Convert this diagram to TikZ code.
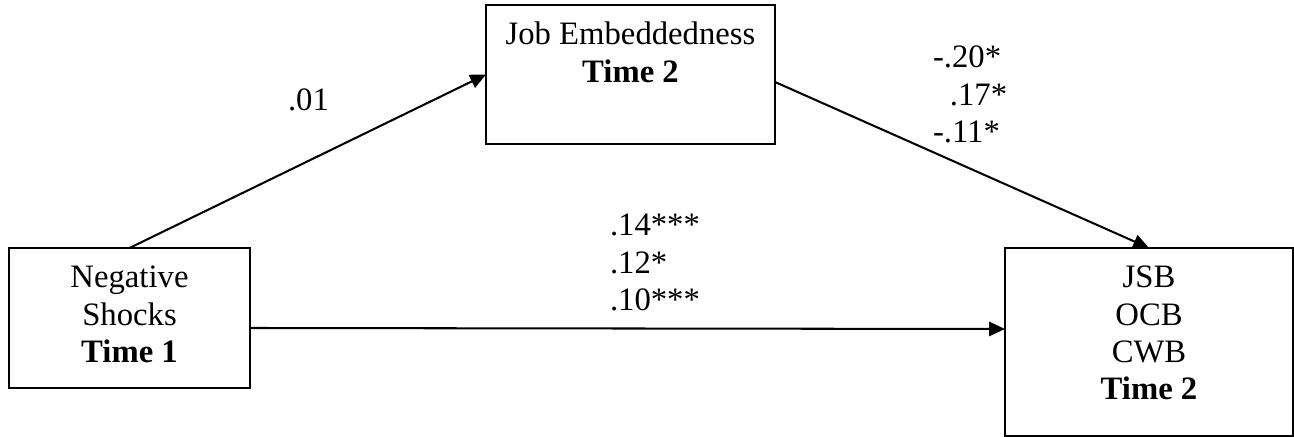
\documentclass[tikz,border=0pt]{standalone}
\usepackage{fontspec}
\setmainfont{Liberation Serif}
\usetikzlibrary{arrows.meta}
\begin{document}
\begin{tikzpicture}[x=0.367pt,y=-0.367pt,
  every node/.style={inner sep=0pt, outer sep=0pt, font=\fontsize{12}{13.6}\selectfont},
  box/.style={draw, line width=0.75pt, text height=14.68pt},
  conn/.style={line width=0.75pt, -{Triangle[length=5.8pt,width=5.2pt]}},
  lbl/.style={anchor=base west}]
\useasboundingbox (0,0) rectangle (1294,437);
\node[box, minimum width=88.45pt, text depth=36.7pt, anchor=base] (ns) at (129.5,288)
  {\begin{tabular}[t]{@{}c@{}}Negative\\Shocks\\\textbf{Time 1}\end{tabular}};
\node[box, minimum width=106.06pt, text depth=36.33pt, anchor=base] (je) at (630.5,45)
  {\begin{tabular}[t]{@{}c@{}}Job Embeddedness\\\textbf{Time 2}\end{tabular}};
\node[box, minimum width=105.7pt, text depth=54.32pt, anchor=base] (rb) at (1149,288)
  {\begin{tabular}[t]{@{}c@{}}JSB\\OCB\\CWB\\\textbf{Time 2}\end{tabular}};
\coordinate (h1) at (0,328);
\coordinate (h2) at (0,329);
\draw[conn] (ns.north) -- (je.west);
\draw[conn] ([yshift=-2.75pt]je.east) -- (rb.north);
\draw[conn] (ns.east |- h1) -- (rb.west |- h2);
\node[lbl] (l01) at (288,111) {.01};
\node[lbl] (ldir) at (610,236) {\begin{tabular}[t]{@{}l@{}}.14***\\.12*\\.10***\end{tabular}};
\node[lbl] (lje) at (933,68) {\begin{tabular}[t]{@{}l@{}}-.20*\\\hspace*{6.2pt}.17*\\-.11*\end{tabular}};
\end{tikzpicture}
\end{document}
